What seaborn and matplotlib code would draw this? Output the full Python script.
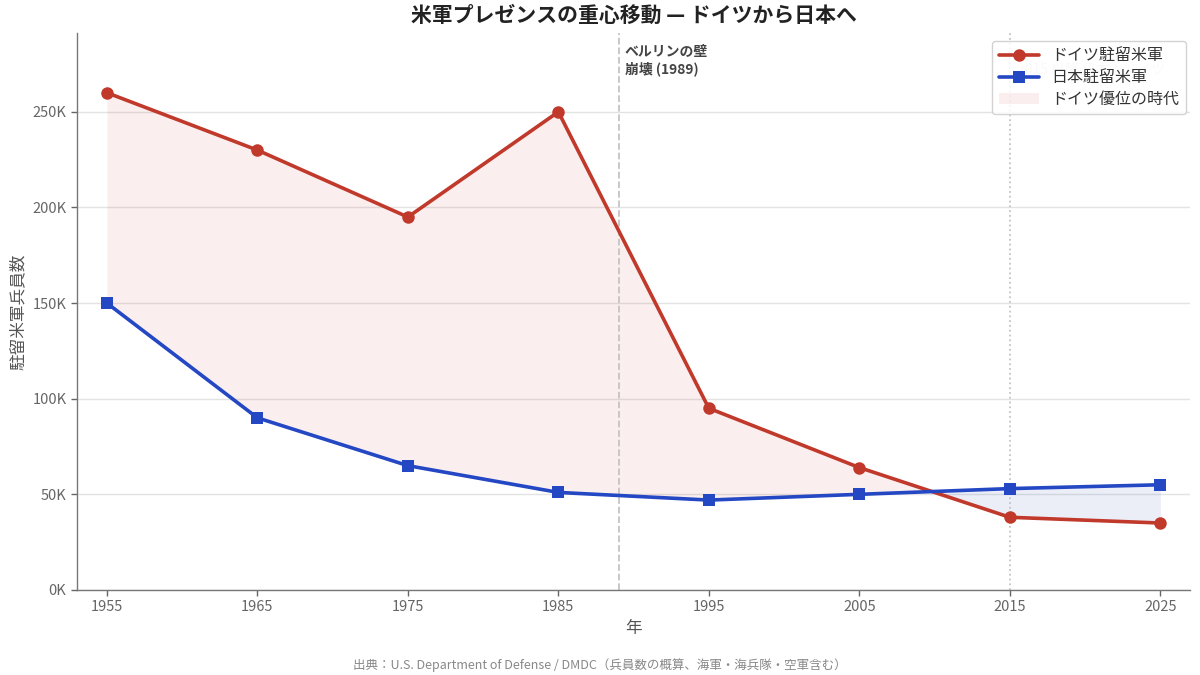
import numpy as np
import pandas as pd
import matplotlib.pyplot as plt
import seaborn as sns

# Data (troop counts)
years = [1955, 1965, 1975, 1985, 1995, 2005, 2015, 2025]
germany = [260000, 230000, 195000, 250000, 95000, 64000, 38000, 35000]
japan = [150000, 90000, 65000, 51000, 47000, 50000, 53000, 55000]

red = '#c0392b'
blue = '#2447c4'

sns.set_theme(style='white')
plt.rcParams['font.family'] = ['Noto Sans CJK JP', 'DejaVu Sans']

df = pd.DataFrame({'year': years, 'germany': germany, 'japan': japan})

fig, ax = plt.subplots(figsize=(12, 6.75), dpi=100)
fig.subplots_adjust(left=0.064, right=0.992, top=0.951, bottom=0.126)

ax.yaxis.grid(True, color='#e3e3e3', linewidth=1)
ax.set_axisbelow(True)

g = np.array(germany)
j = np.array(japan)
ax.fill_between(years, g, j, where=g >= j, interpolate=True,
                color=red, alpha=0.08, linewidth=0, label='ドイツ優位の時代')
ax.fill_between(years, g, j, where=g < j, interpolate=True,
                color='#3b5bb5', alpha=0.1, linewidth=0)

sns.lineplot(data=df, x='year', y='germany', ax=ax, color=red, linewidth=2.6,
             marker='o', markersize=9, markeredgewidth=0, label='ドイツ駐留米軍')
sns.lineplot(data=df, x='year', y='japan', ax=ax, color=blue, linewidth=2.6,
             marker='s', markersize=9, markeredgewidth=0, label='日本駐留米軍')

ax.axvline(1989, color='#c4c4c4', linestyle='--', linewidth=1.3, zorder=1)
ax.axvline(2015, color='#c4c4c4', linestyle=':', linewidth=1.3, zorder=1)
ax.text(1989.4, 285000, 'ベルリンの壁\n崩壊 (1989)', fontsize=10, fontweight='bold',
        color='#444444', va='top', ha='left', linespacing=1.2)
# faint note that sits behind the legend (as in the original)
ax.text(2015.5, 272000, '2015 以降 日本＞ドイツ', fontsize=10, color='#dddddd',
        va='center', ha='left', zorder=0)

ax.set_xlim(1953, 2027)
ax.set_ylim(0, max(germany) * 1.12)
ax.set_xticks(years)
ax.set_yticks([0, 50000, 100000, 150000, 200000, 250000])
ax.set_yticklabels(['0K', '50K', '100K', '150K', '200K', '250K'])
ax.tick_params(axis='both', colors='#666666', labelsize=10.5, length=4, width=1,
               bottom=True, left=True)

for s in ['top', 'right']:
    ax.spines[s].set_visible(False)
for s in ['left', 'bottom']:
    ax.spines[s].set_color('#777777')
    ax.spines[s].set_linewidth(1)

ax.set_xlabel('年', fontsize=12, color='#555555')
ax.set_ylabel('駐留米軍兵員数', fontsize=12, color='#555555')
ax.set_title('米軍プレゼンスの重心移動 — ドイツから日本へ', fontsize=15,
             fontweight='bold', color='#222222', pad=8)

handles, labels = ax.get_legend_handles_labels()
order = [1, 2, 0]
leg = ax.legend([handles[i] for i in order], [labels[i] for i in order],
                loc='upper right', fontsize=11.5, frameon=True, framealpha=0.85,
                edgecolor='#cccccc', borderpad=0.4, handlelength=2.5,
                labelspacing=0.3, bbox_to_anchor=(1.003, 1.0))
for t in leg.get_texts():
    t.set_color('#333333')

fig.text(0.5, 0.004, '出典：U.S. Department of Defense / DMDC（兵員数の概算、海軍・海兵隊・空軍含む）',
         ha='center', va='bottom', fontsize=9, color='#888888')

fig.savefig('out.png', dpi=100)
